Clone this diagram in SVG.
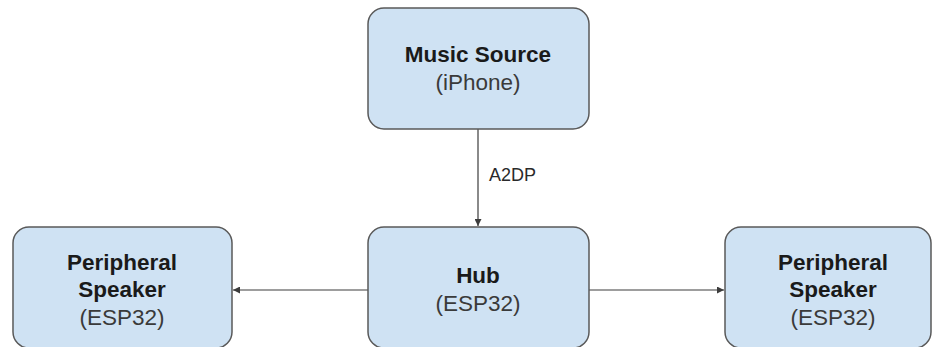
<svg xmlns="http://www.w3.org/2000/svg" width="934" height="347" viewBox="0 0 934 347">
<defs>
<style>
.box{fill:#cfe2f3;stroke:#595959;stroke-width:1.5}
.b{font-family:"Liberation Sans",Arial,sans-serif;font-weight:bold;font-size:22.5px;fill:#1a1a1a;text-anchor:middle}
.r{font-family:"Liberation Sans",Arial,sans-serif;font-size:22.5px;fill:#3a3a3a;text-anchor:middle}
.lbl{font-family:"Liberation Sans",Arial,sans-serif;font-size:18px;fill:#2a2a2a}
.con{stroke:#3c3c3c;stroke-width:1.2;fill:none}
</style>
<marker id="ah" viewBox="0 0 10 10" refX="10" refY="5" markerWidth="7" markerHeight="7" markerUnits="userSpaceOnUse" orient="auto">
<path d="M0,0 L10,5 L0,10 z" fill="#3c3c3c"/>
</marker>
</defs>
<rect width="934" height="347" fill="#ffffff"/>
<g id="connectors">
<line class="con" x1="478" y1="129" x2="478" y2="226" marker-end="url(#ah)"/>
<line class="con" x1="368" y1="290" x2="233" y2="290" marker-end="url(#ah)"/>
<line class="con" x1="589" y1="290" x2="724" y2="290" marker-end="url(#ah)"/>
<text class="lbl" x="489" y="181">A2DP</text>
</g>
<g id="music-source">
<rect class="box" x="368" y="8" width="221" height="121" rx="16"/>
<text class="b" x="478" y="62">Music Source</text>
<text class="r" x="478" y="90">(iPhone)</text>
</g>
<g id="hub">
<rect class="box" x="368" y="227" width="221" height="121" rx="16"/>
<text class="b" x="478" y="283">Hub</text>
<text class="r" x="478" y="311">(ESP32)</text>
</g>
<g id="left-speaker">
<rect class="box" x="13" y="227" width="219" height="121" rx="16"/>
<text class="b" x="122" y="270">Peripheral</text>
<text class="b" x="122" y="297">Speaker</text>
<text class="r" x="122" y="325">(ESP32)</text>
</g>
<g id="right-speaker">
<rect class="box" x="725" y="227" width="206" height="121" rx="16"/>
<text class="b" x="833" y="270">Peripheral</text>
<text class="b" x="833" y="297">Speaker</text>
<text class="r" x="833" y="325">(ESP32)</text>
</g>
</svg>
